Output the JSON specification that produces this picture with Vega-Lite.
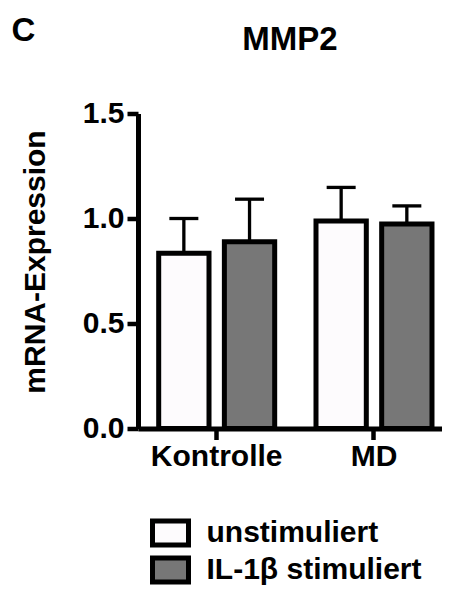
{
  "$schema": "https://vega.github.io/schema/vega-lite/v6.json",
  "background": "white",
  "padding": {"left": 11, "top": 14.5, "right": 0, "bottom": 0},
  "title": {"text": "C", "anchor": "start", "frame": "group", "dx": -126.5, "fontSize": 33, "fontWeight": "bold", "font": "Liberation Sans", "color": "black", "offset": -24},
  "config": {
    "font": "Liberation Sans",
    "view": {"stroke": null},
    "axis": {
      "domainColor": "black", "tickColor": "black", "labelColor": "black", "titleColor": "black",
      "domainWidth": 5, "tickWidth": 4.5, "tickSize": 11, "labelFontSize": 30, "labelFontWeight": "bold",
      "titleFontSize": 30, "titleFontWeight": "bold", "grid": false, "labelFont": "Liberation Sans", "titleFont": "Liberation Sans"
    },
    "legend": {"labelFontSize": 30, "labelFontWeight": "bold", "labelFont": "Liberation Sans", "labelColor": "black", "padding": 0, "labelLimit": 400}
  },
  "vconcat": [
    {
      "width": 304,
      "height": 315,
      "title": {"text": "MMP2", "fontSize": 33, "fontWeight": "bold", "anchor": "middle", "color": "black", "offset": 42, "font": "Liberation Sans"},
      "data": {
        "values": [
          {"group": "Kontrolle", "cond": "unstimuliert", "value": 0.835, "upper": 1.0},
          {"group": "Kontrolle", "cond": "IL-1β stimuliert", "value": 0.889, "upper": 1.092},
          {"group": "MD", "cond": "unstimuliert", "value": 0.988, "upper": 1.148},
          {"group": "MD", "cond": "IL-1β stimuliert", "value": 0.974, "upper": 1.06}
        ]
      },
      "encoding": {
        "x": {"field": "group", "type": "nominal", "sort": ["Kontrolle", "MD"],
          "scale": {"paddingInner": 0.2626, "paddingOuter": 0.0976, "align": 0.674},
          "axis": {"title": null, "labelAngle": 0, "labelPadding": 2}},
        "xOffset": {"field": "cond", "type": "nominal", "sort": ["unstimuliert", "IL-1β stimuliert"],
          "scale": {"paddingInner": 0.234, "paddingOuter": 0}}
      },
      "layer": [
        {
          "mark": {"type": "bar", "stroke": "black", "strokeWidth": 5},
          "encoding": {
            "y": {"field": "value", "type": "quantitative",
              "scale": {"domain": [0, 1.5], "nice": false, "zero": true},
              "axis": {"values": [0, 0.5, 1, 1.5], "format": ".1f", "title": "mRNA-Expression", "labelPadding": 3, "titlePadding": 32, "titleY": 148}},
            "color": {"field": "cond", "type": "nominal",
              "scale": {"domain": ["unstimuliert", "IL-1β stimuliert"], "range": ["#fdfbfd", "#777777"]},
              "legend": {"orient": "none", "legendX": 17.5, "legendY": 404.5, "title": null, "direction": "vertical",
                "symbolType": "M-3,-2H3V2H-3Z", "symbolSize": 144, "symbolStrokeColor": "black", "symbolStrokeWidth": 5,
                "symbolOpacity": 1, "labelOffset": 21, "rowPadding": -10}}
          }
        },
        {
          "mark": {"type": "rule", "color": "black", "strokeWidth": 3.3},
          "encoding": {
            "y": {"field": "value", "type": "quantitative"},
            "y2": {"field": "upper"}
          }
        },
        {
          "mark": {"type": "tick", "color": "black", "size": 29, "thickness": 3.3, "opacity": 1},
          "encoding": {
            "y": {"field": "upper", "type": "quantitative"}
          }
        }
      ]
    }
  ]
}
